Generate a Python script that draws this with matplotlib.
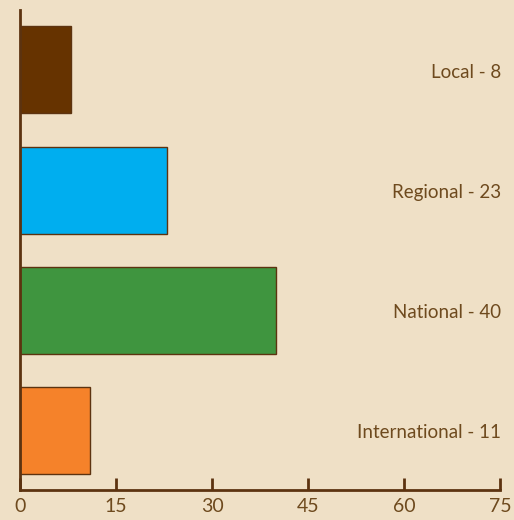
import matplotlib.pyplot as plt

# bar data, bottom to top
categories = ["International", "National", "Regional", "Local"]
values = [11, 40, 23, 8]
colors = ["#f5822a", "#3f953f", "#00aeef", "#663300"]
xticks = [0, 15, 30, 45, 60, 75]

bg = "#efe0c6"
axis_col = "#5c3310"
text_col = "#6e4a1e"

plt.rcParams['font.family'] = ['Lato', 'DejaVu Sans']

fig = plt.figure(figsize=(5.14, 5.20), dpi=100, facecolor=bg)
ax = fig.add_axes([20/514, 30/520, 480/514, 480/520])
ax.set_facecolor(bg)

ypos = range(len(categories))
ax.barh(ypos, values, height=0.725, color=colors, edgecolor=axis_col, linewidth=1)

# labels sit at the right edge, level with each bar
for y, c, v in zip(ypos, categories, values):
    ax.text(75.2, y - 0.02, f"{c} - {v}", ha="right", va="center",
            fontsize=13.5, color=text_col)

ax.set_xlim(0, 75)
ax.set_ylim(-0.5, 3.5)
ax.set_xticks(xticks)
ax.set_yticks([])
for s in ["top", "right"]:
    ax.spines[s].set_visible(False)
for s in ["left", "bottom"]:
    ax.spines[s].set_color(axis_col)
    ax.spines[s].set_linewidth(2)
ax.tick_params(axis="x", direction="in", length=9, width=2, color=axis_col,
               labelcolor=text_col, labelsize=14, pad=6)

fig.savefig("out.png", dpi=100, facecolor=bg)
